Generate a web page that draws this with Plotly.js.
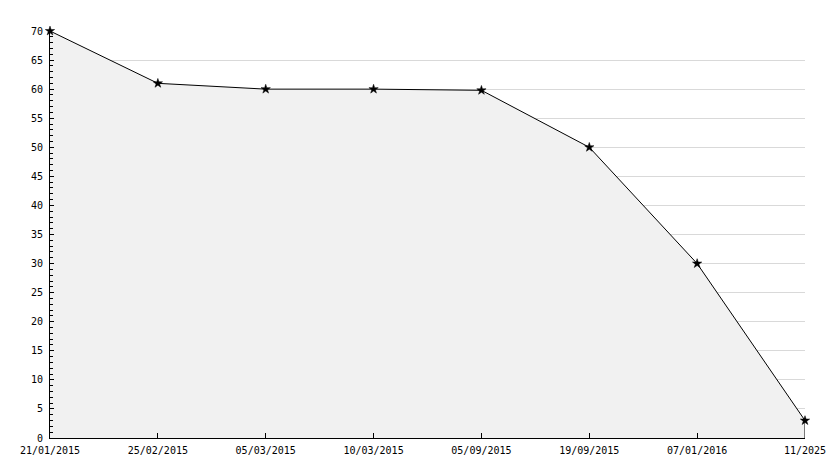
<!DOCTYPE html>
<html>
<head>
<meta charset="utf-8">
<script src="https://cdn.plot.ly/plotly-3.0.1.min.js"></script>
<style>html,body{margin:0;padding:0;background:#fff;}#chart{width:834px;height:468px;}</style>
</head>
<body>
<div id="chart"></div>
<script>
const categories = ["21/01/2015","25/02/2015","05/03/2015","10/03/2015","05/09/2015","19/09/2015","07/01/2016","11/2025"];
const values = [70, 61, 60, 60, 59.8, 50, 30, 3];
const yTickVals = [0,5,10,15,20,25,30,35,40,45,50,55,60,65,70];

const lastCat = categories[categories.length-1];
const lastVal = values[values.length-1];

const FONT = {family: 'DejaVu Sans Mono, monospace', size: 10, color: '#000'};

const traces = [
  {
    x: categories, y: values, type: 'scatter', mode: 'lines+markers',
    fill: 'tozeroy', fillcolor: '#f1f1f1',
    line: {color: '#000', width: 1},
    marker: {symbol: 'star', size: 7, color: '#000', line: {width: 0.5, color: '#000'}},
    hoverinfo: 'none', cliponaxis: false
  },
  {
    x: [lastCat, lastCat], y: [0, lastVal], type: 'scatter', mode: 'lines',
    line: {color: '#000', width: 1}, hoverinfo: 'none', showlegend: false
  }
];

const layout = {
  width: 834, height: 468,
  margin: {l: 50, r: 29, t: 31, b: 30},
  paper_bgcolor: '#fff', plot_bgcolor: '#fff',
  showlegend: false,
  font: FONT,
  xaxis: {
    type: 'category', range: [0, categories.length-1],
    showgrid: false, zeroline: false,
    showline: true, linecolor: '#000', linewidth: 1,
    ticks: 'inside', ticklen: 5, tickcolor: '#000',
    ticklabelstandoff: 3,
    tickfont: FONT,
    fixedrange: true
  },
  yaxis: {
    range: [0, 70], tickvals: yTickVals,
    showgrid: true, gridcolor: '#d9d9d9', gridwidth: 1,
    zeroline: false,
    showline: true, linecolor: '#000', linewidth: 1,
    ticks: 'inside', ticklen: 4, tickcolor: '#000',
    minor: {dtick: 1, ticks: 'inside', ticklen: 3, tickcolor: '#000', showgrid: false},
    ticklabelstandoff: 4,
    tickfont: FONT,
    fixedrange: true
  }
};

Plotly.newPlot('chart', traces, layout, {staticPlot: true, displayModeBar: false});
</script>
</body>
</html>
